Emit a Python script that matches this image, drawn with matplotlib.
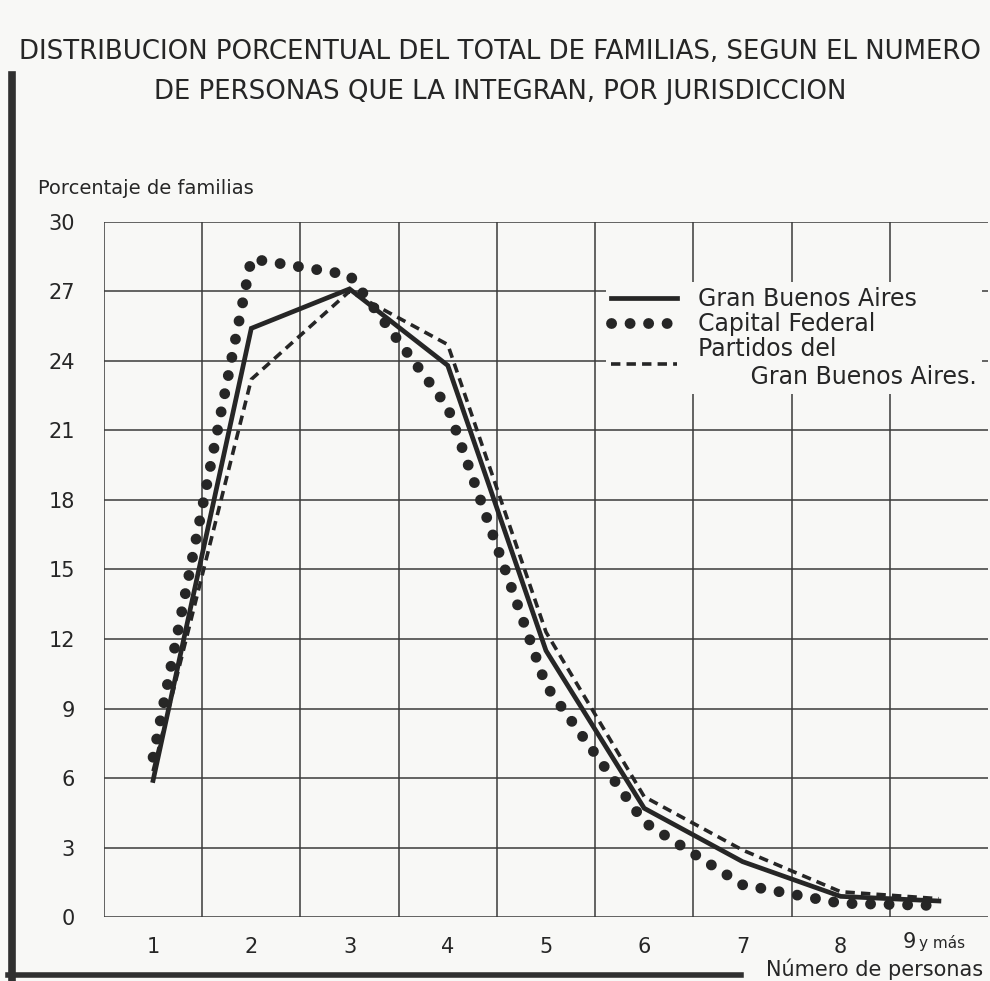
# Distribución porcentual del total de familias según el número de personas
import matplotlib
matplotlib.use('Agg')
import matplotlib.pyplot as plt
from matplotlib.lines import Line2D

# Datos
personas = [1, 2, 3, 4, 5, 6, 7, 8, 9]
etiquetas_x = ['1', '2', '3', '4', '5', '6', '7', '8', '']
gran_buenos_aires = [5.9, 25.4, 27.1, 23.8, 11.5, 4.7, 2.4, 0.9, 0.7]
capital_federal = [6.9, 28.4, 27.7, 22.0, 10.0, 4.1, 1.4, 0.6, 0.5]
partidos = [6.3, 23.2, 27.0, 24.7, 12.3, 5.2, 2.9, 1.1, 0.8]
valores_y = [0, 3, 6, 9, 12, 15, 18, 21, 24, 27, 30]

tinta = '#262626'
fondo = '#f8f8f6'

fig = plt.figure(figsize=(9.9, 9.81), dpi=100, facecolor=fondo)
ax = fig.add_axes([0.105, 0.065, 0.893, 0.709], facecolor=fondo)

# Curvas
ax.plot(personas, gran_buenos_aires, color=tinta, lw=3.4,
        solid_joinstyle='miter', label='Gran Buenos Aires')
ax.plot(personas, capital_federal, color=tinta, lw=7.8,
        linestyle=(0, (0.01, 1.7)), dash_capstyle='round',
        label='Capital Federal')
ax.plot(personas, partidos, color=tinta, lw=2.6,
        linestyle=(0, (2.6, 1.7)), label='Partidos del\n       Gran Buenos Aires.')

# Ejes y cuadrícula
ax.set_xlim(0.5, 9.5)
ax.set_ylim(0, 30)
ax.set_xticks(personas)
ax.set_xticklabels(etiquetas_x, fontsize=15, color=tinta)
ax.set_yticks(valores_y)
ax.set_yticklabels([str(v) for v in valores_y], fontsize=15, color=tinta)
ax.tick_params(axis='both', length=0)
ax.tick_params(axis='y', pad=21)
ax.tick_params(axis='x', pad=14)
for x in range(1, 10):
    ax.axvline(x - 0.5, color='#3a3a3a', lw=1.1, zorder=0)
for y in valores_y:
    ax.axhline(y, color='#3a3a3a', lw=1.1, zorder=0)
for lado in ax.spines.values():
    lado.set_visible(False)

# "9 y más"
ax.text(8.7, -0.62, '9', ha='center', va='top', fontsize=15, color=tinta,
        clip_on=False)
ax.text(8.8, -0.78, 'y más', ha='left', va='top', fontsize=11,
        color=tinta, clip_on=False)

# Leyenda
leg = ax.legend(loc='upper left', bbox_to_anchor=(0.555, 0.93),
                fontsize=17, handlelength=2.8, handletextpad=0.9,
                labelspacing=0.05, borderpad=0.2, frameon=True)
leg.get_frame().set_facecolor(fondo)
leg.get_frame().set_edgecolor('none')
leg.get_frame().set_alpha(1)
for t in leg.get_texts():
    t.set_color(tinta)

# Textos
fig.text(0.505, 1 - 52 / 981, 'DISTRIBUCION PORCENTUAL DEL TOTAL DE FAMILIAS, SEGUN EL NUMERO',
         ha='center', va='center', fontsize=18.7, color=tinta)
fig.text(0.505, 1 - 92 / 981, 'DE PERSONAS QUE LA INTEGRAN, POR JURISDICCION',
         ha='center', va='center', fontsize=18.7, color=tinta)
fig.text(38 / 990, 1 - 188 / 981, 'Porcentaje de familias', ha='left',
         va='center', fontsize=14, color=tinta)
fig.text(0.993, 1 - 969 / 981, 'Número de personas', ha='right',
         va='center', fontsize=15, color=tinta)

# Marco
fig.add_artist(Line2D([0.012, 0.012], [0.003, 0.924], color='#303030', lw=5.5))
fig.add_artist(Line2D([0.008, 0.748], [0.006, 0.006], color='#303030', lw=4))

fig.savefig('out.png', dpi=100, facecolor=fondo)
